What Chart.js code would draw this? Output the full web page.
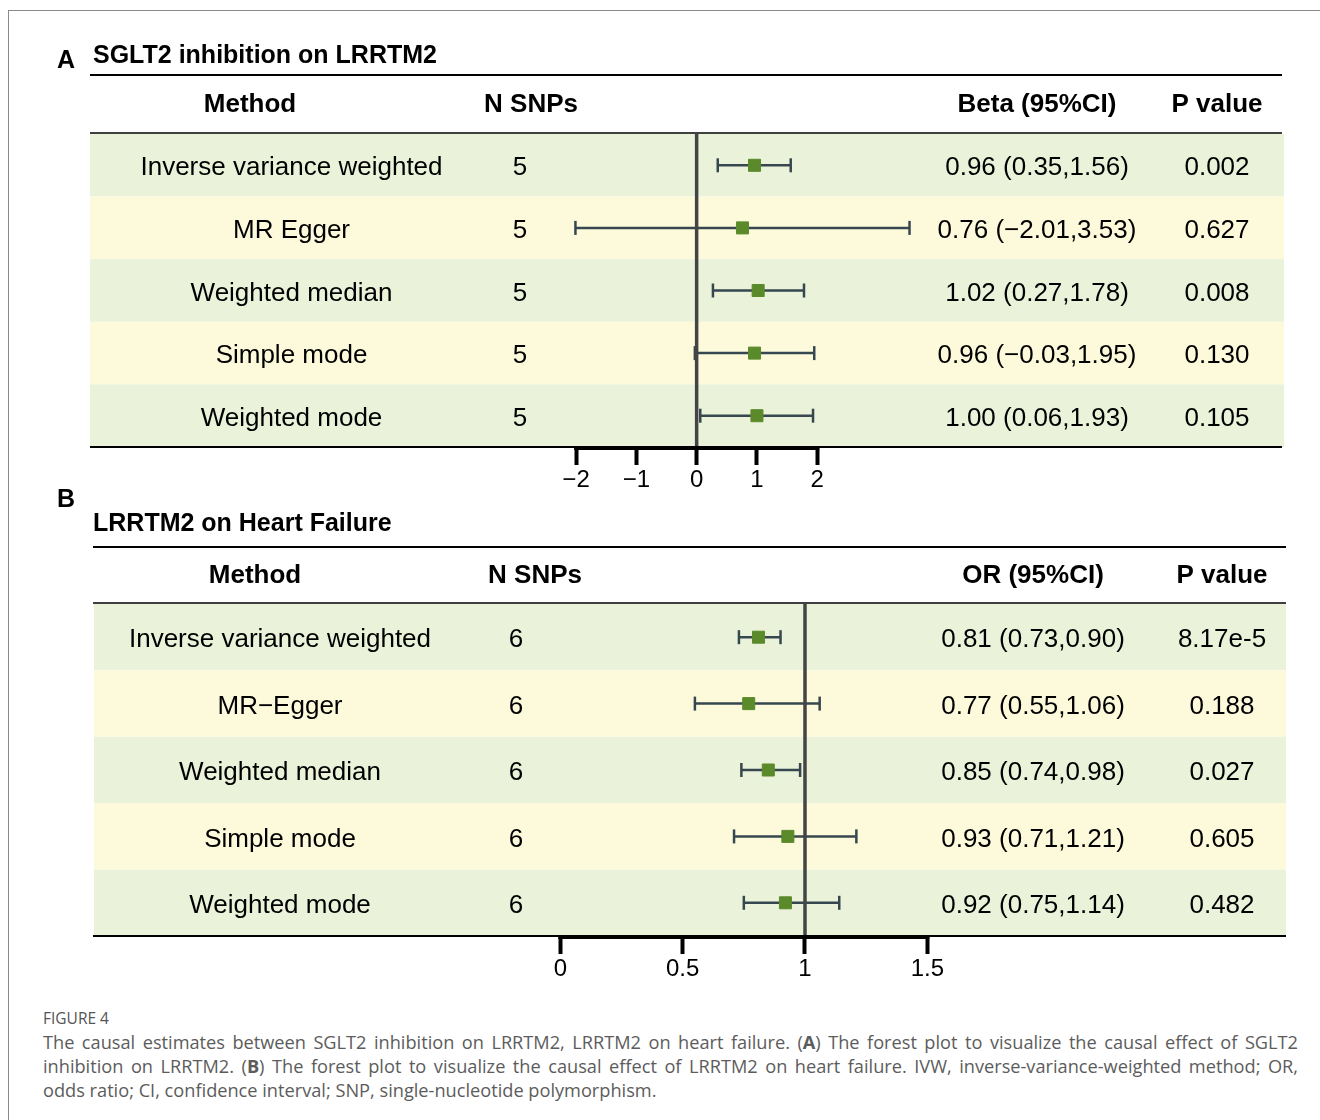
<!DOCTYPE html>
<html><head><meta charset="utf-8">
<script src="https://cdn.jsdelivr.net/npm/chart.js@4/dist/chart.umd.min.js"></script>
<style>
body{margin:0;background:#fff;width:1320px;height:1120px;overflow:hidden;position:relative;}
#frame{position:absolute;left:8px;top:10px;width:1400px;height:1200px;border-left:1px solid #8a8a8a;border-top:1px solid #8a8a8a;}
canvas{position:absolute;left:0;}
#cA{top:0;}
#cB{top:470px;}
#cap{position:absolute;left:43px;top:1006px;width:1255px;color:#5c5c5c;font-family:"Open Sans","Noto Sans",sans-serif;}
#cap .fig{font-size:15.5px;line-height:24px;color:#555;}
#cap .ln{font-size:18.2px;line-height:24px;text-align:justify;text-align-last:justify;}
#cap .last{font-size:18.2px;line-height:24px;}
</style></head>
<body>
<div id="frame"></div>
<canvas id="cA" width="1320" height="500"></canvas>
<canvas id="cB" width="1320" height="530"></canvas>
<div id="cap">
<div class="fig">FIGURE 4</div>
<div class="ln">The causal estimates between SGLT2 inhibition on LRRTM2, LRRTM2 on heart failure. (<b>A</b>) The forest plot to visualize the causal effect of SGLT2</div>
<div class="ln">inhibition on LRRTM2. (<b>B</b>) The forest plot to visualize the causal effect of LRRTM2 on heart failure. IVW, inverse-variance-weighted method; OR,</div>
<div class="last">odds ratio; CI, confidence interval; SNP, single-nucleotide polymorphism.</div>
</div>
<script>
// ---------- Panel A data ----------
const methodsA = ["Inverse variance weighted","MR Egger","Weighted median","Simple mode","Weighted mode"];
const nsnpA = [5,5,5,5,5];
const betaA = [0.96,0.76,1.02,0.96,1.00];
const loA = [0.35,-2.01,0.27,-0.03,0.06];
const hiA = [1.56,3.53,1.78,1.95,1.93];
const pA = ["0.002","0.627","0.008","0.130","0.105"];
const ticksA = [-2,-1,0,1,2];
const refA = 0;

// ---------- Panel B data ----------
const methodsB = ["Inverse variance weighted","MR\u2212Egger","Weighted median","Simple mode","Weighted mode"];
const nsnpB = [6,6,6,6,6];
const orB = [0.81,0.77,0.85,0.93,0.92];
const loB = [0.73,0.55,0.74,0.71,0.75];
const hiB = [0.90,1.06,0.98,1.21,1.14];
const pB = ["8.17e-5","0.188","0.027","0.605","0.482"];
const ticksB = [0,0.5,1,1.5];
const refB = 1;

const SANS = "'Liberation Sans', Arial, sans-serif";
const NARROW = "'Liberation Sans Narrow', 'Arial Narrow', 'Liberation Sans', sans-serif";
const fmt = v => (v<0?'\u2212':'') + Math.abs(v).toFixed(2);
const fmtTick = v => (v<0?'\u2212':'') + Math.abs(v);

const tablePlugin = {
  id:'forestTable',
  beforeDatasetsDraw(chart, args, o){
    const {ctx, chartArea:a, scales:{y}} = chart;
    ctx.save();
    for(let i=0;i<o.methods.length;i++){
      const t=y.getPixelForValue(i-0.5), b=y.getPixelForValue(i+0.5);
      ctx.fillStyle = i%2 ? '#fdfadc' : '#eaf3da';
      ctx.fillRect(a.left, t, a.right-a.left, b-t);
    }
    ctx.restore();
  },
  afterDraw(chart, args, o){
    const {ctx, chartArea:a, scales:{x,y}} = chart;
    ctx.save();
    ctx.fillStyle='#000'; ctx.strokeStyle='#000';
    ctx.textBaseline='middle'; ctx.textAlign='left';
    ctx.font = "bold 25px "+SANS;
    ctx.fillText(o.letter, o.letterX, o.letterY);
    ctx.fillText(o.title, o.titleX, o.titleY);
    ctx.lineWidth=2;
    ctx.beginPath(); ctx.moveTo(o.ruleX0, o.topRule); ctx.lineTo(o.ruleX1, o.topRule); ctx.stroke();
    ctx.lineWidth=1.5;
    ctx.beginPath(); ctx.moveTo(o.ruleX0, a.top-1); ctx.lineTo(o.ruleX1, a.top-1); ctx.stroke();
    ctx.lineWidth=2;
    ctx.beginPath(); ctx.moveTo(o.ruleX0, a.bottom); ctx.lineTo(o.ruleX1, a.bottom); ctx.stroke();
    const t0 = x.getPixelForValue(o.ticks[0]), t1 = x.getPixelForValue(o.ticks[o.ticks.length-1]);
    ctx.lineWidth=4;
    ctx.beginPath(); ctx.moveTo(t0-2, a.bottom+1); ctx.lineTo(t1+2, a.bottom+1); ctx.stroke();
    ctx.textAlign='center';
    ctx.font = "bold 26px "+SANS;
    const hy = (o.topRule + a.top)/2;
    o.headers.forEach((h,k)=>ctx.fillText(h, o.headerX[k], hy));
    ctx.font = "26px "+SANS;
    o.methods.forEach((m,i)=>{
      const yy = y.getPixelForValue(i) + o.textDy;
      ctx.fillText(m, o.colX[0], yy);
      ctx.fillText(String(o.nsnp[i]), o.colX[1], yy);
      ctx.fillText(fmt(o.est[i])+' ('+fmt(o.lo[i])+','+fmt(o.hi[i])+')', o.colX[2], yy);
      ctx.fillText(o.p[i], o.colX[3], yy);
    });
    ctx.restore();
  }
};

function makeChart(id, cfg){
  const n = cfg.methods.length;
  return new Chart(document.getElementById(id), {
    type:'scatter',
    data:{datasets:[
      {label:'estimate', data: cfg.est.map((v,i)=>({x:v,y:i})), pointStyle:'rect', pointRadius:8.5,
       backgroundColor:'#5b8a2b', borderColor:'#5b8a2b', pointBorderWidth:1, showLine:false},
      {label:'reference', data:[{x:cfg.ref,y:-0.5},{x:cfg.ref,y:n-0.5}], showLine:true,
       borderColor:'#444', borderWidth:3.5, pointRadius:0},
      {label:'ci', data: cfg.lo.flatMap((l,i)=>[{x:l,y:i},{x:cfg.hi[i],y:i},{x:cfg.hi[i],y:null}]),
       showLine:true, spanGaps:false, borderColor:'#37474f', borderWidth:2.5,
       pointStyle:'line', pointRotation:90, pointRadius:7, pointBorderWidth:2.5,
       pointBorderColor:'#37474f', pointBackgroundColor:'#37474f'}
    ]},
    options:{
      responsive:false, animation:false, devicePixelRatio:1,
      layout:{padding:cfg.padding},
      plugins:{legend:{display:false}, tooltip:{enabled:false}, forestTable:cfg},
      scales:{
        x:{type:'linear', min:cfg.xmin, max:cfg.xmax, position:'bottom',
           afterBuildTicks:s=>{s.ticks = cfg.ticks.map(v=>({value:v}));},
           afterFit:s=>{s.height = cfg.axisH;},
           grid:{display:true, drawOnChartArea:false, drawTicks:true, tickLength:18, tickWidth:4, tickColor:'#000'},
           border:{display:false},
           ticks:{color:'#000', padding:1, maxRotation:0, autoSkip:false,
                  font:{family:NARROW, size:24}, callback:v=>fmtTick(v)}},
        y:{type:'linear', min:-0.5, max:n-0.5, reverse:true, display:false}
      }
    },
    plugins:[tablePlugin]
  });
}

makeChart('cA', {
  methods:methodsA, nsnp:nsnpA, est:betaA, lo:loA, hi:hiA, p:pA, ticks:ticksA, ref:refA,
  xmin:-10.06, xmax:9.74, padding:{left:90,right:36,top:134,bottom:0}, axisH:53,
  letter:'A', letterX:57, letterY:61, title:'SGLT2 inhibition on LRRTM2', titleX:93, titleY:56,
  topRule:75, ruleX0:90, ruleX1:1282,
  headers:['Method','N SNPs','Beta (95%CI)','P value'], headerX:[250,531,1037,1217],
  colX:[291.5,520,1037,1217], textDy:3
});

makeChart('cB', {
  methods:methodsB, nsnp:nsnpB, est:orB, lo:loB, hi:hiB, p:pB, ticks:ticksB, ref:refB,
  xmin:-1.906, xmax:2.966, padding:{left:94,right:34,top:134,bottom:0}, axisH:64,
  letter:'B', letterX:57, letterY:30, title:'LRRTM2 on Heart Failure', titleX:93, titleY:54,
  topRule:77, ruleX0:93, ruleX1:1286,
  headers:['Method','N SNPs','OR (95%CI)','P value'], headerX:[255,535,1033,1222],
  colX:[280,516,1033,1222], textDy:3
});
</script>
</body></html>
